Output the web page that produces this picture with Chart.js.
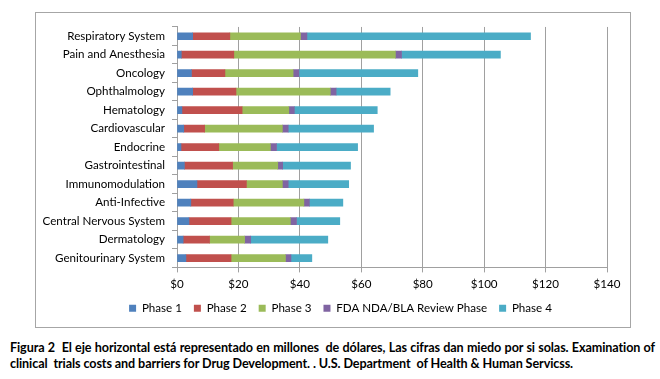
<!DOCTYPE html>
<html>
<head>
<meta charset="utf-8">
<script src="https://cdn.jsdelivr.net/npm/chart.js@4"></script>
<style>
  html, body { margin: 0; padding: 0; background: #ffffff; width: 660px; height: 379px; overflow: hidden; }
  #box { position: absolute; left: 35px; top: 12px; width: 594px; height: 314px; border: 1px solid #a6a6a6; }
  #box canvas { display: block; }
  .cap { position: absolute; left: 10px; width: 645px; margin: 0; white-space: nowrap;
    font-family: Lato, sans-serif; font-weight: bold; font-size: 12.6px; line-height: 16px;
    color: #000; letter-spacing: -0.1px; }
  #cap1 { top: 340px; text-align: justify; text-align-last: justify; white-space: normal; }
  #cap2 { top: 356px; text-align: left; }
</style>
</head>
<body>
<div id="box"><canvas id="c" width="594" height="314"></canvas></div>
<p class="cap" id="cap1">Figura 2&nbsp; El eje horizontal está representado en millones&nbsp; de dólares, Las cifras dan miedo por si solas. Examination of</p>
<p class="cap" id="cap2">clinical&nbsp; trials costs and barriers for Drug Development. . U.S. Department&nbsp; of Health &amp; Human Servicss.</p>
<script>
const categories = ["Respiratory System", "Pain and Anesthesia", "Oncology", "Ophthalmology", "Hematology", "Cardiovascular", "Endocrine", "Gastrointestinal", "Immunomodulation", "Anti-Infective", "Central Nervous System", "Dermatology", "Genitourinary System"];
const phase1 = [5.1, 1.4, 4.7, 5.1, 1.6, 2.2, 1.3, 2.4, 6.5, 4.5, 3.9, 2.0, 2.9];
const phase2 = [12.1, 17.1, 10.9, 14.1, 19.6, 6.8, 12.3, 15.7, 16.1, 13.8, 13.7, 8.6, 14.7];
const phase3 = [23.0, 52.6, 22.2, 30.7, 15.2, 25.3, 16.8, 14.7, 11.7, 23.0, 19.3, 11.4, 17.7];
const fdaReview = [2.1, 2.0, 1.9, 1.9, 1.8, 1.9, 2.0, 1.6, 1.9, 1.8, 2.0, 2.0, 1.8];
const phase4 = [72.8, 32.2, 38.7, 17.6, 27.0, 27.8, 26.4, 22.1, 19.7, 10.9, 14.1, 25.1, 6.8];
const seriesNames = ["Phase 1", "Phase 2", "Phase 3", "FDA NDA/BLA Review Phase", "Phase 4"];
const xTicks = [0, 20, 40, 60, 80, 100, 120, 140];

const colors = ["#4F81BD", "#C0504D", "#9BBB59", "#8064A2", "#4BACC6"];
const seriesData = [phase1, phase2, phase3, fdaReview, phase4];
const FONT = "Lato, sans-serif";
const FS = 11.6;

const legendShift = {
  id: "legendShift",
  afterLayout(chart) {
    if (chart.legend) { chart.legend.left += 19; chart.legend.right += 19; }
  }
};

new Chart(document.getElementById("c"), {
  type: "bar",
  data: {
    labels: categories,
    datasets: seriesData.map((d, i) => ({
      label: seriesNames[i],
      data: d,
      backgroundColor: colors[i],
      borderWidth: 0,
      barThickness: 7
    }))
  },
  plugins: [legendShift],
  options: {
    indexAxis: "y",
    responsive: false,
    animation: false,
    events: [],
    layout: { padding: { left: 0, right: 23, top: 13, bottom: 3 } },
    scales: {
      x: {
        stacked: true,
        min: xTicks[0],
        max: xTicks[xTicks.length - 1],
        afterBuildTicks: (s) => { s.ticks = xTicks.map(v => ({ value: v })); },
        afterFit: (s) => { s.height = 23; },
        grid: { color: "#a0a0a0", lineWidth: 1, tickLength: 5, drawTicks: true },
        border: { color: "#a0a0a0" },
        ticks: { color: "#000", padding: 5, font: { family: FONT, size: FS }, callback: (v) => "$" + v }
      },
      y: {
        stacked: true,
        afterFit: (s) => { s.width = 141; },
        grid: { drawOnChartArea: false, drawTicks: true, tickLength: 5, color: "#a0a0a0" },
        border: { color: "#a0a0a0" },
        ticks: { color: "#000", padding: 7, font: { family: FONT, size: FS } }
      }
    },
    plugins: {
      legend: {
        position: "bottom",
        labels: { boxWidth: 7, boxHeight: 7, padding: 12, color: "#000", font: { family: FONT, size: FS } }
      },
      tooltip: { enabled: false }
    }
  }
});
</script>
</body>
</html>
